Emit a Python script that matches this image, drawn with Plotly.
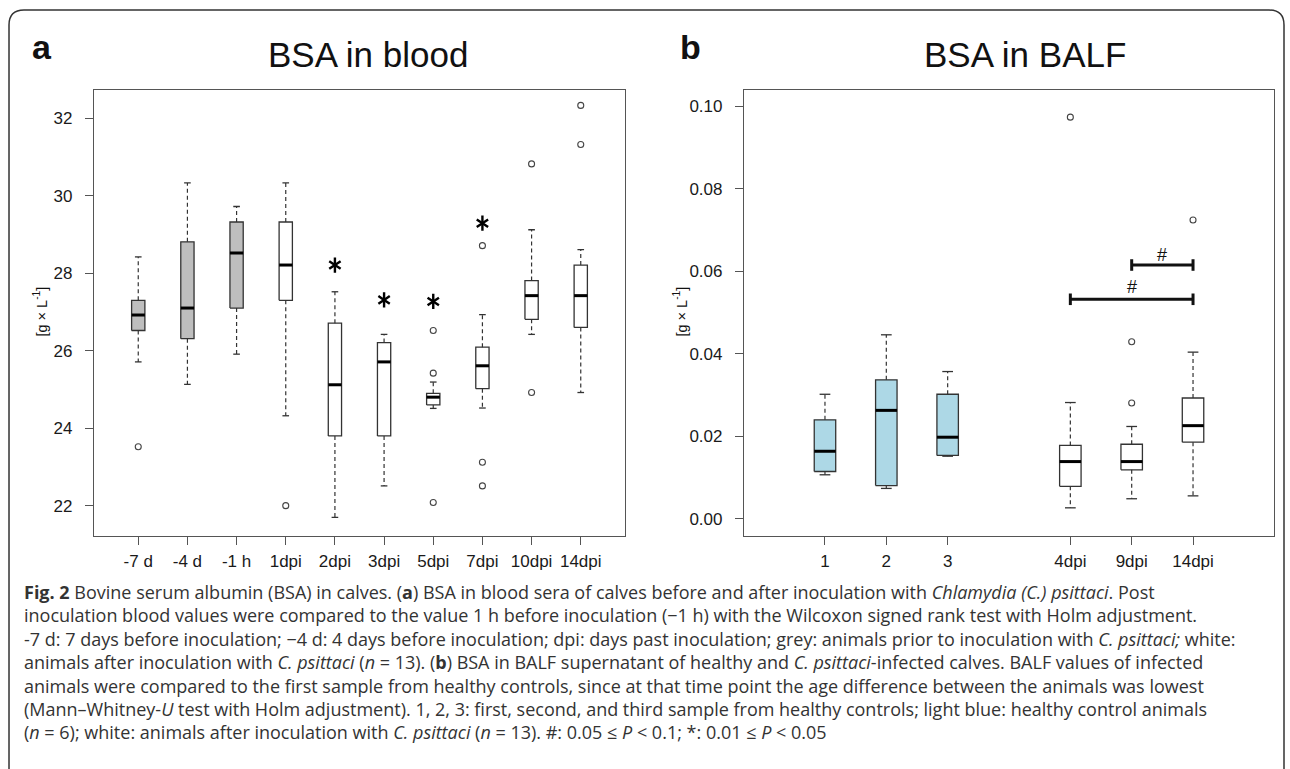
import plotly.graph_objects as go

W, H = 1290, 769

# ---------------- Panel a: BSA in blood ----------------
labels_a = ["-7 d", "-4 d", "-1 h", "1dpi", "2dpi", "3dpi", "5dpi", "7dpi", "10dpi", "14dpi"]
lo_a  = [25.71, 25.13, 25.91, 24.32, 21.70, 22.51, 24.51, 24.52, 26.42, 24.92]
q1_a  = [26.52, 26.31, 27.10, 27.30, 23.80, 23.80, 24.60, 25.02, 26.81, 26.60]
med_a = [26.92, 27.10, 28.52, 28.21, 25.12, 25.71, 24.80, 25.61, 27.42, 27.42]
q3_a  = [27.30, 28.81, 29.32, 29.32, 26.71, 26.21, 24.90, 26.09, 27.81, 28.21]
hi_a  = [28.42, 30.33, 29.72, 30.33, 27.52, 26.42, 25.19, 26.93, 29.12, 28.61]
out_a = [[23.52], [], [], [22.00], [], [], [26.52, 25.42, 22.08],
         [28.71, 23.12, 22.51], [30.82, 24.92], [32.33, 31.32]]
group_a = ["pre", "pre", "pre", "post", "post", "post", "post", "post", "post", "post"]
star_labels_a = ["2dpi", "3dpi", "5dpi", "7dpi"]
star_y_a = [28.21, 27.31, 27.27, 29.29]

# ---------------- Panel b: BSA in BALF ----------------
labels_b = ["1", "2", "3", "4dpi", "9dpi", "14dpi"]
pos_b = [1, 2, 3, 5, 6, 7]
lo_b  = [0.0107, 0.0074, 0.0152, 0.0027, 0.0049, 0.0056]
q1_b  = [0.0115, 0.0081, 0.0154, 0.0079, 0.0119, 0.0186]
med_b = [0.0164, 0.0263, 0.0198, 0.0139, 0.0139, 0.0226]
q3_b  = [0.0240, 0.0337, 0.0302, 0.0178, 0.0181, 0.0293]
hi_b  = [0.0302, 0.0446, 0.0357, 0.0282, 0.0224, 0.0404]
out_b = [[], [], [], [0.0973], [0.0429, 0.0281], [0.0724]]
group_b = ["control", "control", "control", "post", "post", "post"]
brackets_b = [("4dpi", "14dpi", 0.0532, 0.0561), ("9dpi", "14dpi", 0.0615, 0.0640)]

fill_colors = {"pre": "#BEBEBE", "post": "#FFFFFF", "control": "#ADD8E6"}

AX_FONT = "Liberation Sans, Arial, Helvetica, sans-serif"
CAP_FONT = "Open Sans, sans-serif"
LINE_C = "#333333"

fig = go.Figure()


def add_panel(xa, ya, pos, lo, q1, med, q3, hi, outs, groups, w):
    cw = w * 0.5
    for i, p in enumerate(pos):
        fig.add_trace(go.Scatter(
            x=[p - w / 2, p + w / 2, p + w / 2, p - w / 2, p - w / 2],
            y=[q1[i], q1[i], q3[i], q3[i], q1[i]],
            mode="lines", fill="toself", fillcolor=fill_colors[groups[i]],
            line=dict(color=LINE_C, width=1.3), xaxis=xa, yaxis=ya,
            hoverinfo="skip", showlegend=False))
    wx, wy, cx, cy, mx, my, ox, oy = [], [], [], [], [], [], [], []
    for i, p in enumerate(pos):
        wx += [p, p, None, p, p, None]
        wy += [q3[i], hi[i], None, q1[i], lo[i], None]
        cx += [p - cw / 2, p + cw / 2, None, p - cw / 2, p + cw / 2, None]
        cy += [hi[i], hi[i], None, lo[i], lo[i], None]
        mx += [p - w / 2, p + w / 2, None]
        my += [med[i], med[i], None]
        for v in outs[i]:
            ox.append(p)
            oy.append(v)
    fig.add_trace(go.Scatter(x=wx, y=wy, mode="lines", xaxis=xa, yaxis=ya,
                             line=dict(color=LINE_C, width=1.2, dash="4px,3px"),
                             hoverinfo="skip", showlegend=False))
    fig.add_trace(go.Scatter(x=cx, y=cy, mode="lines", xaxis=xa, yaxis=ya,
                             line=dict(color=LINE_C, width=1.3),
                             hoverinfo="skip", showlegend=False))
    fig.add_trace(go.Scatter(x=mx, y=my, mode="lines", xaxis=xa, yaxis=ya,
                             line=dict(color="#000000", width=3),
                             hoverinfo="skip", showlegend=False))
    fig.add_trace(go.Scatter(x=ox, y=oy, mode="markers", xaxis=xa, yaxis=ya,
                             marker=dict(symbol="circle-open", size=6, color="#444444",
                                         line=dict(color="#444444", width=1.1)),
                             hoverinfo="skip", showlegend=False))


pos_a = list(range(1, len(labels_a) + 1))
add_panel("x", "y", pos_a, lo_a, q1_a, med_a, q3_a, hi_a, out_a, group_a, 0.27)
add_panel("x2", "y2", pos_b, lo_b, q1_b, med_b, q3_b, hi_b, out_b, group_b, 0.35)

# significance stars (panel a), six-armed asterisk from two Y markers
sx = [pos_a[labels_a.index(l)] for l in star_labels_a]
for sym in ["y-up-open", "y-down-open"]:
    fig.add_trace(go.Scatter(x=sx, y=star_y_a, mode="markers", xaxis="x", yaxis="y",
                             marker=dict(symbol=sym, size=9.5, color="#000000",
                                         line=dict(color="#000000", width=2.4)),
                             hoverinfo="skip", showlegend=False))

# brackets (panel b)
tick_h = 0.0014
for a, b, yl, yt in brackets_b:
    xa_ = pos_b[labels_b.index(a)]
    xb_ = pos_b[labels_b.index(b)]
    fig.add_trace(go.Scatter(
        x=[xa_, xb_, None, xa_, xa_, None, xb_, xb_],
        y=[yl, yl, None, yl - tick_h, yl + tick_h, None, yl - tick_h, yl + tick_h],
        mode="lines", xaxis="x2", yaxis="y2", line=dict(color="#111111", width=3),
        hoverinfo="skip", showlegend=False))
    fig.add_annotation(x=(xa_ + xb_) / 2, y=yt, xref="x2", yref="y2", text="#",
                       showarrow=False, font=dict(family=AX_FONT, size=18, color="#111111"),
                       yanchor="middle")

axis_common = dict(showline=True, mirror=True, linecolor="#555555", linewidth=1.2,
                   ticks="outside", ticklen=8, tickwidth=1.2, tickcolor="#555555",
                   showgrid=False, zeroline=False,
                   tickfont=dict(family=AX_FONT, size=17, color="#1a1a1a"))

ytop, ybot = 89.5, 535.5
fig.update_layout(
    width=W, height=H, margin=dict(l=0, r=0, t=0, b=0),
    paper_bgcolor="white", plot_bgcolor="white", showlegend=False,
    xaxis=dict(domain=[94 / W, 625 / W], range=[0.1, 10.9], tickvals=pos_a,
               ticktext=labels_a, anchor="y", ticklabelstandoff=2, **axis_common),
    yaxis=dict(domain=[1 - ybot / H, 1 - ytop / H], range=[21.23, 32.74],
               tickvals=[22, 24, 26, 28, 30, 32], anchor="x", ticklabelstandoff=9,
               **axis_common),
    xaxis2=dict(domain=[744 / W, 1274 / W], range=[-0.32, 8.32], tickvals=pos_b,
                ticktext=labels_b, anchor="y2", ticklabelstandoff=2, **axis_common),
    yaxis2=dict(domain=[1 - ybot / H, 1 - ytop / H], range=[-0.004, 0.104],
                tickvals=[0, 0.02, 0.04, 0.06, 0.08, 0.10],
                ticktext=["0.00", "0.02", "0.04", "0.06", "0.08", "0.10"],
                anchor="x2", ticklabelstandoff=9, **axis_common),
)


def px(x, y):
    return x / W, 1 - y / H


def note(x, y, text, size, family=AX_FONT, color="#111111", xanchor="center",
         yanchor="middle", angle=0, align="center"):
    xp, yp = px(x, y)
    fig.add_annotation(x=xp, y=yp, xref="paper", yref="paper", text=text,
                       showarrow=False, xanchor=xanchor, yanchor=yanchor, align=align,
                       textangle=angle, font=dict(family=family, size=size, color=color))


# panel letters and titles
note(30, 47, "<b>a</b>", 34, xanchor="left")
note(678, 47, "<b>b</b>", 34, xanchor="left")
note(367.5, 54, "BSA in blood", 35)
note(1024.5, 54, "BSA in BALF", 35)
note(40.5, 312, "[g × L<sup>-1</sup>]", 14.5, angle=-90)
note(680.5, 312, "[g × L<sup>-1</sup>]", 14.5, angle=-90)

# outer rounded frame
x0, x1, yt, yb, r = 9, 1284, 10, 800, 15


def P(x, y):
    a, b = px(x, y)
    return f"{a:.5f},{b:.5f}"


path = (f"M{P(x0, yb)} L{P(x0, yt + r)} Q{P(x0, yt)} {P(x0 + r, yt)} "
        f"L{P(x1 - r, yt)} Q{P(x1, yt)} {P(x1, yt + r)} L{P(x1, yb)}")
fig.add_shape(type="path", path=path, xref="paper", yref="paper",
              line=dict(color="#333333", width=1.5))

# caption
caption = [
    "<b>Fig. 2</b> Bovine serum albumin (BSA) in calves. (<b>a</b>) BSA in blood sera of calves before and after inoculation with <i>Chlamydia (C.) psittaci</i>. Post",
    "inoculation blood values were compared to the value 1 h before inoculation (−1 h) with the Wilcoxon signed rank test with Holm adjustment.",
    "-7 d: 7 days before inoculation; −4 d: 4 days before inoculation; dpi: days past inoculation; grey: animals prior to inoculation with <i>C. psittaci;</i> white:",
    "animals after inoculation with <i>C. psittaci</i> (<i>n</i> = 13). (<b>b</b>) BSA in BALF supernatant of healthy and <i>C. psittaci</i>-infected calves. BALF values of infected",
    "animals were compared to the first sample from healthy controls, since at that time point the age difference between the animals was lowest",
    "(Mann–Whitney-<i>U</i> test with Holm adjustment). 1, 2, 3: first, second, and third sample from healthy controls; light blue: healthy control animals",
    "(<i>n</i> = 6); white: animals after inoculation with <i>C. psittaci</i> (<i>n</i> = 13). #: 0.05 ≤ <i>P</i> &lt; 0.1; *: 0.01 ≤ <i>P</i> &lt; 0.05",
]
cap_size = 18
note(22, 592 + 3 * 1.3 * cap_size, "<br>".join(caption), cap_size, family=CAP_FONT,
     color="#333333", xanchor="left", align="left")

fig.write_html("out.html")
